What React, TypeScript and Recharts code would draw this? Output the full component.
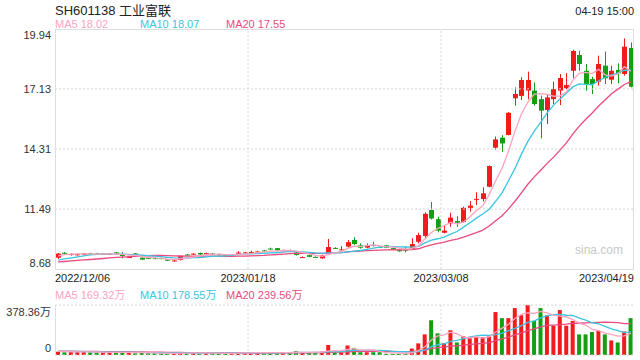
import React from "react";
import { ComposedChart, Bar, Line, XAxis, YAxis, ReferenceLine, Cell } from "recharts";

const title = "SH601138 工业富联";
const timeLabel = "04-19 15:00";
const priceLegend = ["MA5 18.02", "MA10 18.07", "MA20 17.55"];
const volLegend = ["MA5 169.32万", "MA10 178.55万", "MA20 239.56万"];

const xTickIdx = [0, 30, 60, 89];
const xTickLabels = ["2022/12/06", "2023/01/18", "2023/03/08", "2023/04/19"];
const priceTicks = [19.94, 17.13, 14.31, 11.49, 8.68];
const volTicks = [378.36, 0];
const volTickLabels = ["378.36万", "0"];

const opens = [
  9.21, 9.44, 9.36, 9.34, 9.37, 9.41, 9.41, 9.38, 9.39, 9.46,
  9.34, 9.23, 9.41, 9.21, 9.21, 9.19, 9.19, 9.13, 9.06, 9.10,
  9.36, 9.36, 9.43, 9.39, 9.41, 9.38, 9.33, 9.33, 9.40, 9.43,
  9.45, 9.49, 9.55, 9.64, 9.66, 9.54, 9.57, 9.46, 9.22, 9.33,
  9.25, 9.18, 9.43, 9.67, 9.57, 9.73, 10.04, 9.79, 9.68, 9.81,
  9.73, 9.79, 9.66, 9.57, 9.60, 9.62, 9.96, 10.23, 11.45, 11.02,
  10.38, 10.82, 10.93, 10.88, 11.55, 11.94, 11.96, 12.54, 14.37, 14.84,
  14.97, 16.69, 16.80, 17.05, 17.05, 16.65, 16.14, 16.65, 17.05, 17.16,
  17.98, 18.72, 17.98, 17.59, 17.47, 18.22, 17.56, 18.02, 17.83, 19.05,
];
const closes = [
  9.40, 9.40, 9.38, 9.37, 9.40, 9.38, 9.38, 9.40, 9.40, 9.36,
  9.29, 9.24, 9.32, 9.12, 9.16, 9.17, 9.17, 9.07, 9.08, 9.29,
  9.33, 9.40, 9.36, 9.43, 9.38, 9.34, 9.27, 9.36, 9.45, 9.46,
  9.48, 9.50, 9.51, 9.62, 9.55, 9.56, 9.54, 9.34, 9.24, 9.25,
  9.23, 9.33, 9.71, 9.65, 9.60, 9.94, 9.85, 9.68, 9.79, 9.79,
  9.69, 9.68, 9.65, 9.51, 9.54, 9.85, 10.27, 11.27, 11.05, 10.48,
  10.48, 11.09, 10.85, 11.55, 11.65, 11.97, 12.23, 13.51, 14.76, 14.57,
  16.01, 16.89, 17.55, 17.55, 16.42, 16.11, 16.73, 17.12, 17.64, 17.31,
  18.91, 18.30, 17.36, 17.36, 18.30, 17.63, 17.98, 17.86, 19.11, 17.23,
];
const highs = [
  9.43, 9.47, 9.42, 9.40, 9.42, 9.44, 9.44, 9.43, 9.42, 9.48,
  9.48, 9.26, 9.43, 9.23, 9.23, 9.23, 9.22, 9.15, 9.13, 9.31,
  9.38, 9.42, 9.45, 9.45, 9.43, 9.40, 9.35, 9.38, 9.52, 9.48,
  9.54, 9.53, 9.58, 9.68, 9.67, 9.59, 9.59, 9.52, 9.27, 9.35,
  9.27, 9.36, 10.09, 9.70, 9.75, 10.04, 10.17, 9.88, 9.88, 9.96,
  9.75, 9.81, 9.69, 9.60, 9.72, 10.12, 10.38, 11.34, 11.82, 11.13,
  10.71, 11.32, 11.16, 11.60, 11.87, 12.28, 12.51, 13.54, 14.89, 14.96,
  16.05, 17.20, 17.68, 17.94, 17.44, 16.81, 16.89, 17.47, 17.83, 17.87,
  18.97, 18.92, 18.30, 17.70, 18.69, 18.88, 18.22, 18.33, 19.50, 19.31,
];
const lows = [
  9.15, 9.38, 9.31, 9.31, 9.34, 9.35, 9.35, 9.36, 9.36, 9.35,
  9.18, 9.21, 9.30, 9.10, 9.14, 9.14, 9.14, 9.05, 9.03, 9.08,
  9.31, 9.34, 9.34, 9.37, 9.36, 9.32, 9.25, 9.31, 9.38, 9.41,
  9.43, 9.46, 9.49, 9.58, 9.53, 9.52, 9.50, 9.31, 9.21, 9.23,
  9.21, 9.16, 9.42, 9.62, 9.55, 9.68, 9.81, 9.63, 9.65, 9.73,
  9.66, 9.66, 9.62, 9.49, 9.46, 9.60, 9.88, 10.12, 11.00, 10.40,
  10.35, 10.66, 10.66, 10.85, 11.37, 11.68, 11.84, 12.51, 14.26, 14.18,
  14.95, 16.35, 16.61, 16.64, 16.34, 14.81, 15.48, 16.42, 16.37, 17.12,
  17.63, 17.98, 17.05, 16.89, 17.28, 17.36, 17.36, 17.39, 17.75, 17.20,
];
// volume in 万手
const volumes = [
  25, 20, 25, 25, 25, 20, 18, 20, 20, 20,
  22, 20, 13, 20, 13, 13, 13, 13, 13, 20,
  13, 18, 13, 13, 13, 13, 13, 13, 20, 20,
  18, 18, 13, 20, 18, 18, 18, 30, 18, 18,
  20, 25, 76, 20, 21, 72, 54, 21, 21, 21,
  21, 9, 9, 9, 9, 49, 88, 156, 263, 164,
  90, 187, 95, 141, 131, 136, 136, 141, 325, 279,
  279, 355, 301, 378.36, 258, 355, 299, 222, 340, 222,
  258, 156, 156, 174, 182, 156, 110, 95, 178, 279,
];
// sessions before 2022/12/06, read from the starting levels of the MA lines
const priorCloses = [8.95, 8.90, 8.88, 8.92, 8.96, 8.93, 8.90, 8.89, 8.92, 8.95, 8.86, 8.88, 8.90, 8.92, 8.94, 9.12, 9.25, 9.35, 9.38];
const priorVolumes = [30, 28, 35, 32, 26, 30, 34, 28, 25, 30, 27, 32, 29, 26, 31, 28, 30, 27, 26];

const RED = "#f01c1c";
const GREEN = "#12a012";
const C_MA5 = "#fba3c1";
const C_MA10 = "#3cc4e0";
const C_MA20 = "#ea4a7e";
const FONT = '"Liberation Sans", Arial, "Noto Sans CJK SC", sans-serif';

function movingAvg(series: number[], prior: number[], n: number): number[] {
  const all = prior.concat(series);
  const off = prior.length;
  return series.map((_, i) => {
    let s = 0;
    for (let k = 0; k < n; k++) s += all[off + i - k];
    return s / n;
  });
}

const ma5 = movingAvg(closes, priorCloses, 5);
const ma10 = movingAvg(closes, priorCloses, 10);
const ma20 = movingAvg(closes, priorCloses, 20);
const vma5 = movingAvg(volumes, priorVolumes, 5);
const vma10 = movingAvg(volumes, priorVolumes, 10);
const vma20 = movingAvg(volumes, priorVolumes, 20);

const rows = closes.map((c, i) => ({
  i,
  open: opens[i],
  close: c,
  high: highs[i],
  low: lows[i],
  range: [lows[i], highs[i]],
  ma5: ma5[i],
  ma10: ma10[i],
  ma20: ma20[i],
  vol: volumes[i],
  vma5: vma5[i],
  vma10: vma10[i],
  vma20: vma20[i],
}));

const Candle = (props: any) => {
  const { x, y, width, height, payload } = props;
  if (!payload || x == null) return null;
  const top = Math.min(y, y + height);
  const h = Math.abs(height);
  const { open, close, high, low } = payload;
  const k = h / (high - low || 1);
  const cx = Math.floor(x + width / 2);
  const yO = top + (high - open) * k;
  const yC = top + (high - close) * k;
  const color = close >= open ? RED : GREEN;
  const bt = Math.min(yO, yC);
  const bh = Math.max(1, Math.abs(yO - yC));
  return (
    <g>
      <line x1={cx + 0.5} x2={cx + 0.5} y1={top} y2={top + h} stroke={color} strokeWidth={1} />
      <rect x={cx - 2} y={bt} width={5} height={bh} fill={color} />
    </g>
  );
};

const PriceTick = (props: any) => {
  const { y, payload } = props;
  const v = payload.value;
  let dy = 0;
  if (v === priceTicks[0]) dy = 6;
  if (v === priceTicks[priceTicks.length - 1]) dy = -6;
  return (
    <text x={51} y={y + dy} textAnchor="end" dominantBaseline="central" fontSize={11} fill="#333" fontFamily={FONT}>
      {v.toFixed(2)}
    </text>
  );
};

const VolTick = (props: any) => {
  const { y, payload } = props;
  const idx = volTicks.indexOf(payload.value);
  if (idx < 0) return null;
  const dy = idx === 0 ? 7 : -7;
  return (
    <text x={51} y={y + dy} textAnchor="end" dominantBaseline="central" fontSize={11} fill="#333" fontFamily={FONT}>
      {volTickLabels[idx]}
    </text>
  );
};

const DateTick = (props: any) => {
  const { x, payload } = props;
  const idx = xTickIdx.indexOf(payload.value);
  const half = 579 / 90 / 2;
  let anchor: any = "middle";
  let tx = x - half;
  if (idx === 0) { anchor = "start"; tx = x - half; }
  if (idx === xTickIdx.length - 1) { anchor = "end"; tx = x + half; }
  return (
    <text x={tx} y={278} textAnchor={anchor} dominantBaseline="central" fontSize={11} fill="#222" fontFamily={FONT}>
      {xTickLabels[idx]}
    </text>
  );
};

const gridStroke = "#d6d6d6";

export default function App() {
  return (
    <div style={{ position: "absolute", left: 0, top: 0, width: 640, height: 360, background: "#fff", overflow: "hidden", fontFamily: FONT }}>
      <div style={{ position: "absolute", left: 0, top: 0 }}>
        <ComposedChart width={640} height={290} data={rows} margin={{ top: 29, right: 6, bottom: 0, left: 0 }}>
          <XAxis dataKey="i" type="category" ticks={xTickIdx} interval={0} height={21} axisLine={false} tickLine={false} tick={<DateTick />} />
          <YAxis type="number" domain={[8.68, 19.94]} allowDataOverflow ticks={priceTicks} interval={0} width={55} axisLine={false} tickLine={false} tick={<PriceTick />} />
          {priceTicks.slice(1, -1).map((t) => (
            <ReferenceLine key={"h" + t} y={t} stroke={gridStroke} strokeDasharray="2 2" />
          ))}
          {xTickIdx.slice(1, -1).map((t) => (
            <ReferenceLine key={"v" + t} x={t} position="start" stroke={gridStroke} strokeDasharray="2 2" />
          ))}
          <Bar dataKey="range" shape={<Candle />} isAnimationActive={false} barSize={5} />
          <Line dataKey="ma20" stroke={C_MA20} strokeWidth={1.3} dot={false} isAnimationActive={false} />
          <Line dataKey="ma10" stroke={C_MA10} strokeWidth={1.3} dot={false} isAnimationActive={false} />
          <Line dataKey="ma5" stroke={C_MA5} strokeWidth={1.3} dot={false} isAnimationActive={false} />
        </ComposedChart>
      </div>
      <div style={{ position: "absolute", left: 0, top: 300 }}>
        <ComposedChart width={640} height={58} data={rows} margin={{ top: 5, right: 6, bottom: 3, left: 0 }}>
          <XAxis dataKey="i" type="category" hide />
          <YAxis type="number" domain={[0, 378.36]} allowDataOverflow ticks={volTicks} interval={0} width={55} axisLine={false} tickLine={false} tick={<VolTick />} />
          <ReferenceLine y={378.36} stroke={gridStroke} strokeDasharray="2 2" />
          <ReferenceLine y={0} stroke={gridStroke} strokeDasharray="2 2" />
          {xTickIdx.slice(1, -1).map((t) => (
            <ReferenceLine key={"vv" + t} x={t} position="start" stroke={gridStroke} strokeDasharray="2 2" />
          ))}
          <Bar dataKey="vol" barSize={4} isAnimationActive={false}>
            {rows.map((r) => (
              <Cell key={r.i} fill={r.close >= r.open ? RED : GREEN} />
            ))}
          </Bar>
          <Line dataKey="vma20" stroke={C_MA20} strokeWidth={1.3} dot={false} isAnimationActive={false} />
          <Line dataKey="vma10" stroke={C_MA10} strokeWidth={1.3} dot={false} isAnimationActive={false} />
          <Line dataKey="vma5" stroke={C_MA5} strokeWidth={1.3} dot={false} isAnimationActive={false} />
        </ComposedChart>
      </div>
      <div style={{ position: "absolute", left: 55, top: 29, width: 579, height: 241, boxSizing: "border-box", border: "1px solid #dedede", pointerEvents: "none" }} />
      <div style={{ position: "absolute", left: 55, top: 305, width: 1, height: 50, background: "#dedede", pointerEvents: "none" }} />
      <svg width={640} height={360} style={{ position: "absolute", left: 0, top: 0, pointerEvents: "none" }}>
        <text x={55} y={10} fontSize={13} fill="#222" dominantBaseline="central" fontFamily={FONT}>{title}</text>
        <text x={634} y={11} fontSize={11} fill="#222" textAnchor="end" dominantBaseline="central" fontFamily={FONT}>{timeLabel}</text>
        <text x={55} y={24} fontSize={11} fill={C_MA5} dominantBaseline="central" fontFamily={FONT}>{priceLegend[0]}</text>
        <text x={140} y={24} fontSize={11} fill={C_MA10} dominantBaseline="central" fontFamily={FONT}>{priceLegend[1]}</text>
        <text x={226} y={24} fontSize={11} fill={C_MA20} dominantBaseline="central" fontFamily={FONT}>{priceLegend[2]}</text>
        <text x={55} y={295} fontSize={11} fill={C_MA5} dominantBaseline="central" fontFamily={FONT}>{volLegend[0]}</text>
        <text x={140} y={295} fontSize={11} fill={C_MA10} dominantBaseline="central" fontFamily={FONT}>{volLegend[1]}</text>
        <text x={226} y={295} fontSize={11} fill={C_MA20} dominantBaseline="central" fontFamily={FONT}>{volLegend[2]}</text>
        <text x={623} y={250} fontSize={12} fill="#c8c8c8" textAnchor="end" dominantBaseline="central" fontFamily={FONT}>sina.com</text>
      </svg>
    </div>
  );
}
